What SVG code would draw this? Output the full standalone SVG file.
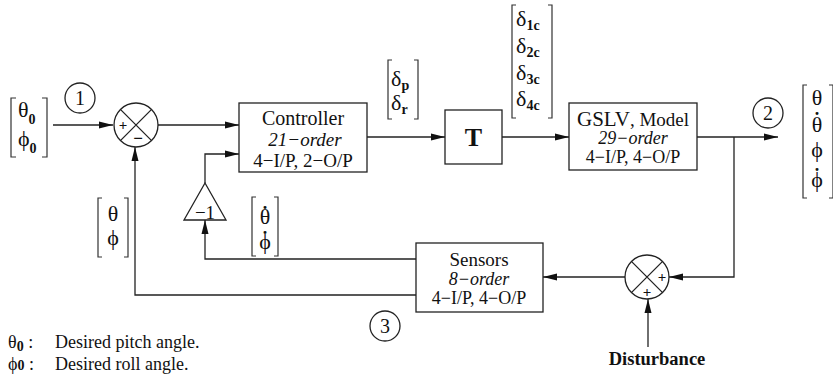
<svg xmlns="http://www.w3.org/2000/svg" width="833" height="384" viewBox="0 0 833 384">
<style>
.ln{fill:none;stroke:#222;stroke-width:1.3}
.bx{fill:#fff;stroke:#222;stroke-width:1.3}
.br{fill:none;stroke:#333;stroke-width:1.2}
text{font-family:"Liberation Serif","Times New Roman",serif;fill:#111}
.t{font-size:19px;text-anchor:middle}
.i{font-style:italic}
.g{font-size:22px}
.c{text-anchor:middle}
.d{font-size:18px;text-anchor:middle;font-weight:bold}
.sb{font-size:14px;font-weight:bold}
.lg{font-size:18px}
</style>
<defs>
<marker id="ah" viewBox="0 0 14 8" refX="14" refY="4" markerWidth="14" markerHeight="8" markerUnits="userSpaceOnUse" orient="auto">
<path d="M0,0.5 L14,4 L0,7.5 Z" fill="#111"/>
</marker>
</defs>

<g id="connectors">
<line class="ln" x1="53" y1="125" x2="113" y2="125" marker-end="url(#ah)"/>
<line class="ln" x1="158" y1="125" x2="239" y2="125" marker-end="url(#ah)"/>
<polyline class="ln" points="205,183 205,154 239,154" marker-end="url(#ah)"/>
<line class="ln" x1="367" y1="137" x2="445" y2="137" marker-end="url(#ah)"/>
<line class="ln" x1="502" y1="137" x2="569" y2="137" marker-end="url(#ah)"/>
<line class="ln" x1="697" y1="137" x2="778" y2="137" marker-end="url(#ah)"/>
<polyline class="ln" points="734,137 734,277 669,277" marker-end="url(#ah)"/>
<line class="ln" x1="625" y1="277" x2="543" y2="277" marker-end="url(#ah)"/>
<line class="ln" x1="648" y1="347" x2="648" y2="299" marker-end="url(#ah)"/>
<polyline class="ln" points="416,259 205,259 205,220" marker-end="url(#ah)"/>
<polyline class="ln" points="416,295 135,295 135,147" marker-end="url(#ah)"/>
</g>

<g id="input">
<path class="br" d="M16,98 H11 V157 H16 M42,98 H47 V157 H42"/>
<text x="18" y="117" class="g">θ<tspan class="sb" dy="7">0</tspan></text>
<text x="18" y="146" class="g">ϕ<tspan class="sb" dy="7">0</tspan></text>
</g>

<g id="label1">
<circle class="ln" cx="80" cy="98" r="15"/>
<text x="80" y="105" class="t" style="font-size:20px">1</text>
</g>

<g id="sum1">
<circle class="ln" cx="136" cy="125" r="22"/>
<path class="ln" d="M120.4,109.4 L151.6,140.6 M151.6,109.4 L120.4,140.6"/>
<text x="123" y="130" class="t" style="font-size:15px;font-weight:bold">+</text>
<text x="138" y="144" class="t" style="font-size:17px;font-weight:bold">−</text>
</g>

<g id="controller">
<rect class="bx" x="239" y="103" width="128" height="69"/>
<text x="303" y="125" class="t" style="font-size:20px">Controller</text>
<text x="305" y="146" class="t i">21−order</text>
<text x="303" y="167" class="t">4−I/P, 2−O/P</text>
</g>

<g id="dp">
<path class="br" d="M392,60 H388 V119 H392 M414,60 H418 V119 H414"/>
<text x="391" y="86" class="g">δ<tspan class="sb" dy="4">p</tspan></text>
<text x="391" y="110" class="g">δ<tspan class="sb" dy="4">r</tspan></text>
</g>

<g id="T">
<rect class="bx" x="445" y="110" width="57" height="54"/>
<text x="473.5" y="146" class="t" style="font-size:26px;font-weight:bold">T</text>
</g>

<g id="dc">
<path class="br" d="M516,5 H512 V118 H516 M548,5 H552 V118 H548"/>
<text x="516" y="26" class="g">δ<tspan class="sb" dy="4">1c</tspan></text>
<text x="516" y="53" class="g">δ<tspan class="sb" dy="4">2c</tspan></text>
<text x="516" y="80" class="g">δ<tspan class="sb" dy="4">3c</tspan></text>
<text x="516" y="106" class="g">δ<tspan class="sb" dy="4">4c</tspan></text>
</g>

<g id="gslv">
<rect class="bx" x="569" y="103" width="128" height="67"/>
<text x="633" y="126" class="t"><tspan style="font-size:21px">GSLV</tspan>, Model</text>
<text x="633" y="144" class="t i" style="font-size:18px">29−order</text>
<text x="633" y="163" class="t" style="font-size:18px">4−I/P, 4−O/P</text>
</g>

<g id="label2">
<circle class="ln" cx="768" cy="113" r="15"/>
<text x="768" y="120" class="t" style="font-size:20px">2</text>
</g>

<g id="output">
<path class="br" d="M807,85 H803 V198 H807 M829,85 H833 V198 H829"/>
<text x="817" y="105" class="g c">θ</text>
<text x="817" y="132" class="g c">θ</text>
<text x="817" y="115" class="d">.</text>
<text x="817" y="157" class="g c">ϕ</text>
<text x="817" y="187" class="g c">ϕ</text>
<text x="817" y="171" class="d">.</text>
</g>

<g id="sum2">
<circle class="ln" cx="647" cy="277" r="22"/>
<path class="ln" d="M631.4,261.4 L662.6,292.6 M662.6,261.4 L631.4,292.6"/>
<text x="662" y="282" class="t" style="font-size:15px;font-weight:bold">+</text>
<text x="647" y="297" class="t" style="font-size:15px;font-weight:bold">+</text>
</g>

<g id="sensors">
<rect class="bx" x="416" y="243" width="127" height="69"/>
<text x="479" y="266" class="t">Sensors</text>
<text x="479" y="285" class="t i" style="font-size:18px">8−order</text>
<text x="479" y="304" class="t" style="font-size:18px">4−I/P, 4−O/P</text>
</g>

<g id="gain">
<path class="bx" d="M205,183 L226,220 L184,220 Z"/>
<text x="205" y="219" class="t">−1</text>
</g>

<g id="thphi">
<path class="br" d="M102,198 H98 V257 H102 M124,198 H128 V257 H124"/>
<text x="113" y="221" class="g c">θ</text>
<text x="113" y="245" class="g c">ϕ</text>
</g>

<g id="thphidot">
<path class="br" d="M256,197 H252 V256 H256 M274,197 H278 V256 H274"/>
<text x="265" y="224" class="g c">θ</text>
<text x="265" y="209" class="d">.</text>
<text x="265" y="249" class="g c">ϕ</text>
<text x="265" y="234" class="d">.</text>
</g>

<g id="label3">
<circle class="ln" cx="385" cy="326" r="15"/>
<text x="385" y="333" class="t" style="font-size:20px">3</text>
</g>

<g id="disturbance">
<text x="657" y="365" class="t" style="font-size:18.5px;font-weight:bold">Disturbance</text>
</g>

<g id="legend">
<text x="8" y="348" class="lg">θ<tspan class="sb" dy="3">0</tspan><tspan dy="-3"> :</tspan></text>
<text x="55" y="348" class="lg">Desired pitch angle.</text>
<text x="8" y="370" class="lg">ϕ<tspan class="sb">0</tspan><tspan> :</tspan></text>
<text x="55" y="370" class="lg">Desired roll angle.</text>
</g>
</svg>
